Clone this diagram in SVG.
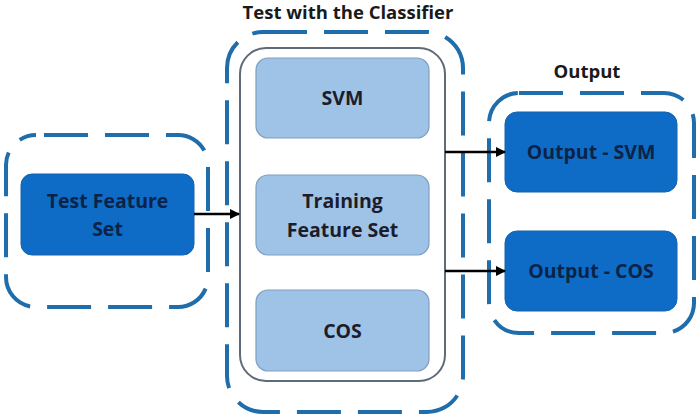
<svg xmlns="http://www.w3.org/2000/svg" width="700" height="420" viewBox="0 0 700 420">
<style>
.dash{fill:none;stroke:#1f6dab;stroke-width:4;stroke-dasharray:44 17}
.dark{fill:#0e6cc6;stroke:#1663ad;stroke-width:1}
.light{fill:#9fc3e7;stroke:#7f9fc0;stroke-width:1.2}
.t{font-family:"Open Sans","Liberation Sans",sans-serif;font-weight:bold;font-size:19.5px;text-anchor:middle}
.tn{fill:#0b2346}
.tl{fill:#1c1c2a}
.title{font-family:"Open Sans","Liberation Sans",sans-serif;font-weight:bold;font-size:18.5px;text-anchor:middle;fill:#1a1a1a}
.conn{stroke:#000;stroke-width:2.5;fill:none;marker-end:url(#ah)}
</style>
<defs>
<marker id="ah" viewBox="0 0 10 10" refX="9" refY="5" markerWidth="4" markerHeight="4" orient="auto" markerUnits="strokeWidth">
<path d="M0,0 L10,5 L0,10 z" fill="#000"/>
</marker>
</defs>
<g id="test-group">
<rect class="dash" x="6" y="135" width="202" height="172" rx="30" stroke-dashoffset="-8"/>
</g>
<g id="test-feature-set">
<rect class="dark" x="21" y="174" width="173" height="81" rx="11"/>
<text class="t tn" x="107.5" y="208">Test Feature</text>
<text class="t tn" x="107.5" y="236">Set</text>
</g>
<g id="classifier-group">
<text class="title" x="348" y="19">Test with the Classifier</text>
<rect class="dash" x="227" y="32" width="236" height="380" rx="36"/>
<rect x="240" y="48" width="205" height="333" rx="26" fill="#fff" stroke="#5e6b78" stroke-width="2"/>
</g>
<g id="svm">
<rect class="light" x="256" y="58" width="173" height="80" rx="12"/>
<text class="t tl" x="342.5" y="105">SVM</text>
</g>
<g id="training-feature-set">
<rect class="light" x="256" y="175" width="173" height="80" rx="12"/>
<text class="t tl" x="342.5" y="208">Training</text>
<text class="t tl" x="342.5" y="237">Feature Set</text>
</g>
<g id="cos">
<rect class="light" x="256" y="290" width="173" height="81" rx="12"/>
<text class="t tl" x="342.5" y="338">COS</text>
</g>
<g id="output-group">
<text class="title" x="587" y="78">Output</text>
<rect class="dash" x="489" y="93" width="205" height="240" rx="30"/>
</g>
<g id="output-svm">
<rect class="dark" x="505" y="112" width="172" height="80" rx="12"/>
<text class="t tn" x="591" y="159">Output - SVM</text>
</g>
<g id="output-cos">
<rect class="dark" x="505" y="231" width="172" height="80" rx="12"/>
<text class="t tn" x="591" y="278">Output - COS</text>
</g>
<g id="connectors">
<line class="conn" x1="194" y1="214" x2="239" y2="214"/>
<line class="conn" x1="445" y1="152" x2="505" y2="152"/>
<line class="conn" x1="445" y1="271" x2="505" y2="271"/>
</g>
</svg>
